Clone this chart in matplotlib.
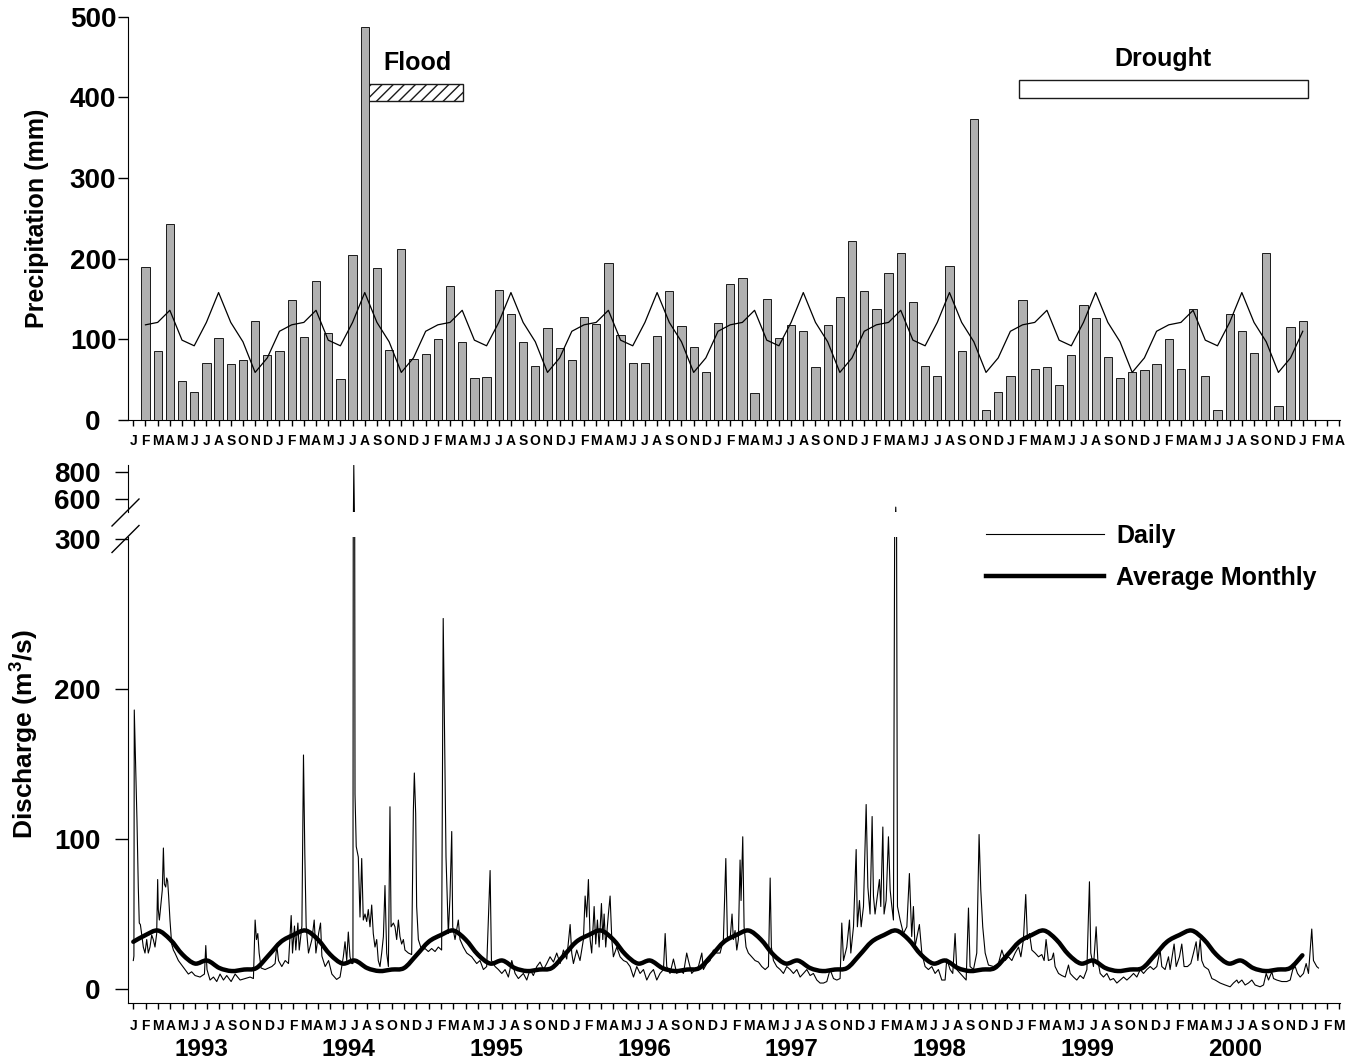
import numpy as np
import matplotlib
matplotlib.use('Agg')
import matplotlib.pyplot as plt
from matplotlib.path import Path
from matplotlib.patches import PathPatch, Rectangle
from matplotlib.lines import Line2D
from matplotlib.transforms import blended_transform_factory

plt.rcParams['font.family'] = ['Liberation Sans', 'DejaVu Sans']
plt.rcParams['font.weight'] = 'bold'
plt.rcParams['mathtext.fontset'] = 'custom'
plt.rcParams['mathtext.rm'] = 'Liberation Sans:bold'
plt.rcParams['mathtext.it'] = 'Liberation Sans:bold'
plt.rcParams['mathtext.bf'] = 'Liberation Sans:bold'

# ---- data ----
month_letters = list('JFMAMJJASOND')
years = [1993, 1994, 1995, 1996, 1997, 1998, 1999, 2000]

# monthly precipitation (mm), Jan 1993 .. Dec 2000
precip_mm = [190, 85, 243, 48, 35, 71, 102, 69, 74, 123, 81, 86,
             149, 103, 172, 108, 51, 204, 487, 189, 87, 212, 76, 82,
             101, 166, 97, 52, 53, 161, 131, 97, 67, 114, 89, 75,
             128, 119, 195, 106, 71, 71, 104, 160, 116, 91, 60, 120,
             168, 176, 34, 150, 102, 118, 110, 66, 118, 152, 222, 160,
             138, 182, 207, 146, 67, 54, 191, 85, 373, 12, 35, 55,
             149, 63, 66, 43, 80, 143, 126, 78, 52, 59, 62, 69,
             100, 63, 137, 54, 12, 131, 110, 83, 207, 17, 115, 123]
# long-term mean monthly precipitation (mm), Jan..Dec
precip_normal = [118, 121, 136, 99, 92, 121, 158, 121, 97, 59, 77, 110]
# long-term average monthly discharge (m3/s), Jan..Dec
discharge_normal = [31.5, 36, 39, 33, 23, 17, 19, 14, 12, 13, 14, 22.5]

# daily discharge, digitised: time in months since 1 Jan 1993, flow in m3/s
daily_t = [0.00, 0.05, 0.08, 0.14, 0.22, 0.30, 0.41, 0.49, 0.58, 0.68, 0.82, 0.96, 1.10, 1.23, 1.37, 1.51,
           1.64, 1.78, 1.92, 2.00, 2.05, 2.14, 2.27, 2.38, 2.47, 2.55, 2.66, 2.74, 2.82, 2.90, 3.01, 3.15,
           3.29, 3.42, 3.70, 3.97, 4.25, 4.52, 4.79, 5.07, 5.48, 5.84, 5.95, 6.05, 6.30, 6.58, 6.85, 7.12,
           7.40, 7.67, 8.03, 8.36, 8.77, 9.18, 9.59, 9.86, 10.00, 10.11, 10.22, 10.33, 10.49, 10.82, 11.10,
           11.37, 11.64, 11.78, 11.92, 12.19, 12.47, 12.74, 12.96, 13.07, 13.23, 13.34, 13.51, 13.62, 13.84,
           13.97, 14.08, 14.19, 14.38, 14.66, 14.85, 14.99, 15.21, 15.37, 15.48, 15.75, 16.03, 16.30,
           16.69, 16.97, 17.24, 17.38, 17.52, 17.65, 17.79, 17.93, 18.03, 18.10, 18.20, 18.30, 18.47, 18.61,
           18.75, 18.88, 19.02, 19.16, 19.29, 19.43, 19.57, 19.70, 19.84, 19.98, 20.11, 20.25, 20.39, 20.53,
           20.66, 20.80, 20.94, 21.07, 21.16, 21.35, 21.48, 21.62, 21.76, 21.89, 22.03, 22.17, 22.30, 22.58,
           22.85, 22.99, 23.07, 23.18, 23.26, 23.40, 23.67, 23.95, 24.22, 24.49, 24.77, 25.04, 25.31, 25.44,
           25.67, 25.86, 26.00, 26.14, 26.22, 26.41, 26.68, 26.82, 27.09, 27.37, 27.78, 28.19, 28.46, 28.74,
           29.01, 29.29, 29.40, 29.70, 29.97, 30.25, 30.52, 30.79, 31.07, 31.34, 31.61, 32.02, 32.30, 32.57,
           32.84, 33.12, 33.39, 33.67, 33.94, 34.21, 34.49, 34.76, 35.04, 35.31, 35.58, 35.86, 35.99, 36.13,
           36.40, 36.67, 36.95, 37.09, 37.22, 37.36, 37.50, 37.63, 37.83, 37.96, 38.10, 38.24, 38.43, 38.54,
           38.65, 38.78, 39.00, 39.14, 39.28, 39.41, 39.69, 39.96, 40.24, 40.51, 40.78, 41.06, 41.33, 41.60,
           41.88, 42.15, 42.42, 42.70, 42.97, 43.24, 43.52, 43.66, 43.79, 44.06, 44.34, 44.61, 44.88, 45.16,
           45.43, 45.57, 45.84, 46.12, 46.39, 46.67, 46.80, 47.08, 47.35, 47.62, 47.90, 48.17, 48.44, 48.64,
           48.77, 48.99, 49.15, 49.26, 49.40, 49.54, 49.67, 49.81, 49.89, 50.03, 50.14, 50.30, 50.49, 50.77,
           51.04, 51.32, 51.59, 51.87, 52.14, 52.28, 52.38, 52.55, 52.82, 53.10, 53.37, 53.64, 53.92, 54.19,
           54.47, 54.74, 55.01, 55.29, 55.56, 55.83, 56.11, 56.38, 56.66, 56.93, 57.20, 57.48, 57.75, 58.02,
           58.16, 58.30, 58.57, 58.79, 58.90, 59.12, 59.34, 59.44, 59.61, 59.75, 59.94, 60.16, 60.30, 60.48,
           60.65, 60.76, 60.89, 61.03, 61.25, 61.36, 61.53, 61.63, 61.80, 61.99, 62.13, 62.27, 62.40, 62.59,
           62.73, 62.95, 63.22, 63.50, 63.71, 63.90, 64.04, 64.17, 64.53, 64.73, 65.00, 65.27, 65.55, 65.82,
           66.09, 66.37, 66.64, 66.78, 67.05, 67.27, 67.46, 67.60, 67.88, 68.15, 68.37, 68.56, 68.69, 68.97,
           69.24, 69.43, 69.57, 69.73, 69.93, 70.20, 70.61, 71.02, 71.30, 71.57, 71.84, 72.12, 72.39, 72.67,
           72.86, 73.07, 73.26, 73.40, 73.57, 73.76, 74.03, 74.31, 74.58, 74.77, 74.93, 75.12, 75.40, 75.54,
           75.67, 75.95, 76.22, 76.50, 76.77, 76.91, 77.18, 77.45, 77.73, 78.00, 78.28, 78.49, 78.60, 78.82,
           79.04, 79.18, 79.37, 79.64, 79.92, 80.19, 80.46, 80.74, 81.01, 81.29, 81.56, 81.83, 82.11, 82.38,
           82.66, 82.93, 83.20, 83.48, 83.75, 84.02, 84.29, 84.43, 84.70, 84.98, 85.11, 85.44, 85.61, 85.88,
           86.07, 86.26, 86.54, 86.81, 87.03, 87.25, 87.39, 87.58, 87.71, 87.91, 88.26, 88.54, 88.81, 89.22,
           89.63, 90.04, 90.31, 90.59, 90.72, 91.00, 91.27, 91.54, 91.82, 92.09, 92.50, 92.78, 93.00, 93.19,
           93.46, 93.60, 93.87, 94.28, 94.69, 94.97, 95.18, 95.38, 95.57, 95.79, 96.06, 96.28, 96.47, 96.74,
           96.88, 97.15, 97.29]
daily_q = [19, 22, 186, 166, 139, 113, 68, 44, 43, 37, 28, 24, 33, 24, 28, 36,
           33, 28, 37, 73, 53, 46, 57, 66, 94, 70, 68, 74, 72, 62, 46, 30,
           26, 24, 19, 16, 13, 10, 11.5, 9, 8, 10, 29, 13, 6, 8, 5, 10,
           6, 9, 5, 10, 6, 7, 8, 7, 46, 33, 37, 24, 14, 13, 14,
           15, 17, 29, 19, 15, 19, 17, 49, 24, 42, 26, 44, 26, 42,
           156, 90, 42, 24, 33, 46, 24, 37, 44, 22, 15, 19, 10,
           6.4, 8, 21.5, 31.5, 19, 38, 21.5, 17, 17, 850, 130, 95, 88, 48,
           87, 46, 50, 45, 53, 41.5, 56, 37, 28, 33, 19, 15, 24, 35,
           69, 24, 15, 121.5, 41.5, 44, 41.5, 33, 46, 35, 30, 33, 26, 24,
           23, 119, 144, 117, 55, 33, 26, 27, 25, 27, 25, 28, 26, 247,
           88, 37, 62, 105, 41.5, 33, 46, 33, 28, 24, 21.5, 17, 19, 13,
           15, 79, 19, 15, 13, 10.4, 13, 8, 19, 10.4, 7, 10.4, 6, 13,
           9, 15, 18, 13, 17, 21.5, 18, 24, 17, 26, 20, 43, 24, 17,
           26, 19, 33, 62, 48, 73, 33, 24, 55, 30, 46, 28, 57, 33,
           50, 28, 50, 62, 33, 21.5, 28, 21.5, 19, 18, 15, 8, 15, 10.4,
           13, 6, 10.4, 13, 6, 10.4, 13, 37, 15, 10.4, 20, 10.4, 13, 10.4,
           24, 19, 10.4, 13, 15, 24, 13, 17, 19, 26, 24, 24, 33, 87,
           35, 33, 50, 33, 39, 26, 33, 86, 59, 101.5, 41.5, 28, 24, 21.5,
           19, 18, 15, 13, 15, 74, 28, 19, 15, 13, 10.4, 15, 13, 10.4,
           13, 8, 10.4, 13, 9, 10.4, 6, 4, 4, 5, 13, 7, 6, 7,
           44, 19, 28, 46, 24, 41.5, 93, 41.5, 59, 41.5, 55, 123, 68, 50,
           115, 62, 50, 59, 73, 55, 108, 50, 59, 101.5, 66, 55, 46, 540,
           55, 46, 37, 41.5, 77, 35, 55, 28, 43, 24, 15, 13, 15, 10.4,
           13, 6, 6, 20, 13, 10.4, 37, 13, 10.4, 8, 6, 54, 15, 13,
           24, 103, 66, 41.5, 24, 16, 15, 17, 26, 19, 21.5, 19, 24, 28,
           21.5, 33, 63, 33, 37, 26, 24, 21.5, 23, 19, 33, 19, 20, 24,
           15, 10.4, 9, 8, 16, 10.4, 8, 6, 9, 7, 13, 71.5, 24, 15,
           41.5, 19, 10.4, 8, 10.4, 6, 7, 4, 6, 8, 6, 8, 10.4, 8,
           13, 10.4, 13, 15, 13, 15, 26, 15, 13, 21.5, 13, 30, 15, 21.5,
           30, 15, 15, 17, 24, 31.5, 19, 33, 19, 15, 13, 7, 6, 4,
           2.7, 1.5, 4, 6, 4, 6, 2.7, 4, 6, 2.7, 1.5, 2.7, 10.4, 6,
           11.5, 7, 6, 5, 5, 6, 13, 15, 10.4, 8, 10.4, 17, 10.4, 40,
           19, 15, 14]

events = ['Flood', 'Drought']
event_start = [17.9, 71.7]   # in months (bar index)
event_end = [26.1, 95.4]

# ---- figure ----
W, H = 1347, 1063
fig = plt.figure(figsize=(W / 100, H / 100), dpi=100)


def rect(l, t, r, b):
    return [l / W, 1 - b / H, (r - l) / W, (b - t) / H]


xlim = (-1.46, 98.05)
ax_p = fig.add_axes(rect(127.7, 16.7, 1339.9, 420))
ax_hi = fig.add_axes(rect(127.7, 465, 1339.9, 512))
ax_q = fig.add_axes(rect(127.7, 537, 1339.9, 1003.3))

# precipitation panel
months = np.arange(len(precip_mm))
ax_p.bar(months, precip_mm, width=0.68, color='#b0b0b0', edgecolor='#1a1a1a',
         linewidth=0.7, zorder=3)
ax_p.plot(months, np.tile(precip_normal, len(precip_mm) // 12), color='black',
          lw=0.9, zorder=4)
box_low = [395, 399]
box_high = [416, 421]
for name, s, e, lo, hi in zip(events, event_start, event_end, box_low, box_high):
    ax_p.add_patch(Rectangle((s, lo), e - s, hi - lo, facecolor='white',
                             edgecolor='#1a1a1a', lw=1.0,
                             hatch='///' if name == 'Flood' else None, zorder=2))
    ax_p.text((s + e) / 2 + (0.3 if name == 'Flood' else 0), hi + 27, name,
              fontsize=18, ha='center', va='center')
ax_p.set_xlim(*xlim)
ax_p.set_ylim(0, 500)
ax_p.set_yticks(np.arange(0, 501, 100))
ax_p.set_xticks(np.arange(-1, 99))
ax_p.set_xticklabels(month_letters * 8 + month_letters[:4])
for s in ['top', 'right']:
    ax_p.spines[s].set_visible(False)
ax_p.tick_params(axis='y', direction='out', length=7, width=1, labelsize=20, pad=18)
for lab in ax_p.get_yticklabels():
    lab.set_horizontalalignment('center')
ax_p.tick_params(axis='x', direction='out', length=4.3, width=1, labelsize=10, pad=6)

# discharge panel (broken axis)
t_daily = np.array(daily_t) - 1
cat_pos = np.linspace(-1, 98, 99)
avg_x = cat_pos[:96]
avg_y = np.tile(discharge_normal, 8)


def smooth_path(x, y):
    verts = [(x[0], y[0])]
    codes = [Path.MOVETO]
    n = len(x)
    for i in range(n - 1):
        x0, y0 = (x[i - 1], y[i - 1]) if i > 0 else (x[i], y[i])
        x3, y3 = (x[i + 2], y[i + 2]) if i + 2 < n else (x[i + 1], y[i + 1])
        verts.append((x[i] + (x[i + 1] - x0) / 6, y[i] + (y[i + 1] - y0) / 6))
        verts.append((x[i + 1] - (x3 - x[i]) / 6, y[i + 1] - (y3 - y[i]) / 6))
        verts.append((x[i + 1], y[i + 1]))
        codes += [Path.CURVE4] * 3
    return Path(verts, codes)


for ax in (ax_hi, ax_q):
    ax.plot(t_daily, daily_q, color='black', lw=0.8)
    ax.set_xlim(*xlim)
    ax.spines['top'].set_visible(False)
    ax.spines['right'].set_visible(False)
    ax.tick_params(axis='y', direction='out', length=9.4, width=1, labelsize=20, pad=10)

ax_q.add_patch(PathPatch(smooth_path(avg_x, avg_y), fill=False, lw=3.2,
                         edgecolor='black', capstyle='round', joinstyle='round'))
ax_q.set_ylim(-9.5, 301.3)
ax_q.set_yticks([0, 100, 200, 300])
ax_q.set_xticks(cat_pos)
ax_q.set_xticklabels(month_letters * 8 + month_letters[:3])
ax_q.tick_params(axis='x', direction='out', length=4.5, width=1, labelsize=10, pad=6.5)

ax_hi.set_ylim(503.7, 851.9)
ax_hi.set_yticks([600, 800])
ax_hi.spines['bottom'].set_visible(False)
ax_hi.tick_params(axis='x', bottom=False, labelbottom=False)

# break marks on the y axis
for cy in (512.5, 539):
    fig.add_artist(Line2D([(125.5 - 13.5) / W, (125.5 + 13.5) / W],
                          [1 - (cy + 13.5) / H, 1 - (cy - 13.5) / H],
                          color='black', lw=1, transform=fig.transFigure))

# year labels
trans = blended_transform_factory(ax_q.transData, fig.transFigure)
for i, yr in enumerate(years):
    ax_q.text(cat_pos[12 * i] + 5.5 * (cat_pos[1] - cat_pos[0]), 1 - 1050 / H, str(yr),
              transform=trans, ha='center', va='center', fontsize=17.5)

# legend
handles = [Line2D([], [], color='black', lw=0.8), Line2D([], [], color='black', lw=3.2)]
ax_q.legend(handles, ['Daily', 'Average Monthly'], loc='upper left',
            bbox_to_anchor=(986 / W, 1 - 524 / H), bbox_transform=fig.transFigure,
            frameon=False, prop={'weight': 'bold', 'size': 18}, handlelength=4.7,
            handletextpad=0.5, labelspacing=0.72, borderpad=0, borderaxespad=0)

# axis titles
fig.text(37 / W, 1 - 218 / H, 'Precipitation (mm)', rotation=90, ha='center',
         va='center', fontsize=18)
fig.text(25 / W, 1 - 734 / H, 'Discharge (m$^3$/s)', rotation=90, ha='center',
         va='center', fontsize=19)

fig.savefig('out.png', dpi=100)
